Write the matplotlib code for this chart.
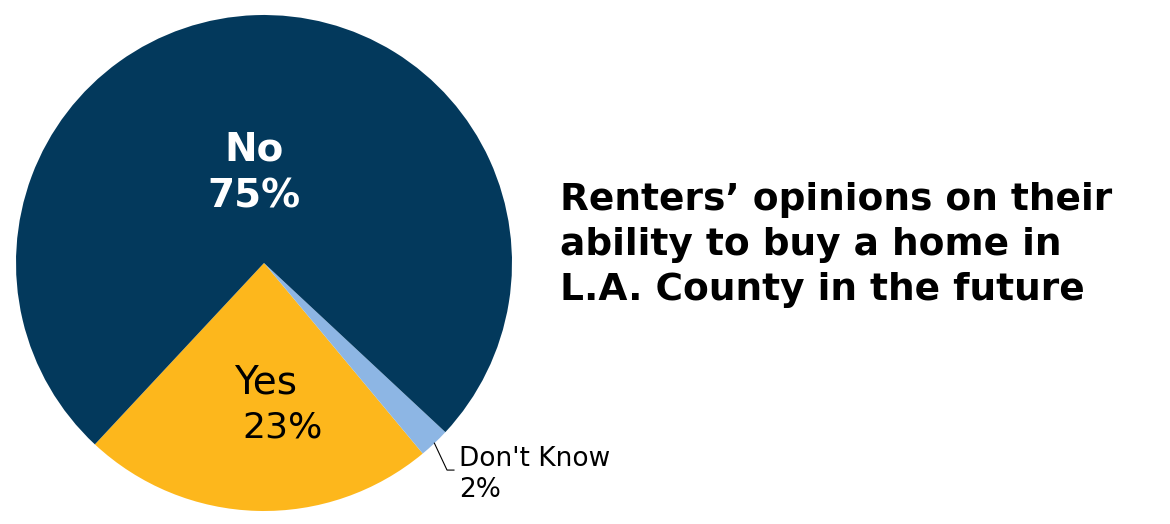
import numpy as np
import matplotlib
matplotlib.use("Agg")
import matplotlib.pyplot as plt

# data
labels = ["Yes", "Don't Know", "No"]
shares = [23, 2, 75]
colors = ["#FDB71C", "#8DB6E4", "#03395C"]
title = "Renters\u2019 opinions on their\nability to buy a home in\nL.A. County in the future"

W, H = 1170, 524
fig = plt.figure(figsize=(W / 100, H / 100), dpi=100)
cx, cy, r = 264, 263, 248
ax = fig.add_axes([(cx - r) / W, (H - cy - r) / H, 2 * r / W, 2 * r / H])

wedges, _ = ax.pie(shares, colors=colors, startangle=227, counterclock=True,
                   radius=1, wedgeprops=dict(linewidth=0))
ax.set_xlim(-1, 1)
ax.set_ylim(-1, 1)
ax.set_aspect("equal")
ax.axis("off")

# No
ax.text(-0.04, 0.456, "No", color="white", fontsize=28, fontweight="bold",
        ha="center", va="center")
ax.text(-0.04, 0.27, f"{shares[2]}%", color="white", fontsize=28,
        fontweight="bold", ha="center", va="center")
# Yes
ax.text(0.008, -0.48, "Yes", color="black", fontsize=28, ha="center", va="center")
ax.text(0.073, -0.665, f"{shares[0]}%", color="black", fontsize=26,
        ha="center", va="center")

# Don't Know with leader line
w = wedges[1]
mid = np.deg2rad((w.theta1 + w.theta2) / 2)
x0, y0 = np.cos(mid), np.sin(mid)
ax.plot([x0, 0.738, 0.766], [y0, -0.835, -0.835], color="black", lw=0.8,
        clip_on=False)
ax.text(0.786, -0.79, "Don't Know", fontsize=19, ha="left", va="center")
ax.text(0.786, -0.915, f"{shares[1]}%", fontsize=19, ha="left", va="center")

fig.text(560 / W, 1 - 245 / H, title, fontsize=27, fontweight="bold",
         ha="left", va="center", linespacing=1.33)

fig.savefig("out.png", dpi=100)
